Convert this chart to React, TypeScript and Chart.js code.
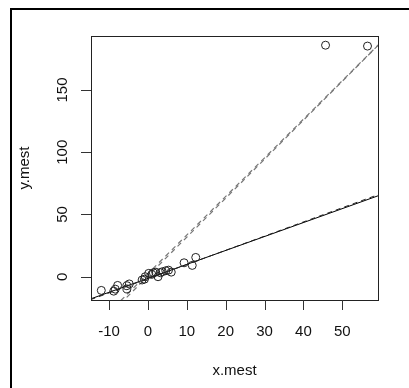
import React, { useEffect, useRef } from "react";
import { Chart, registerables } from "chart.js";

Chart.register(...registerables);

const xValues = [-12.0, -8.8, -8.4, -7.8, -5.4, -5.4, -4.8, -1.5, -0.9, -0.7, 0.2, 1.0, 1.4, 2.0, 2.6, 3.2, 3.7, 4.6, 5.3, 6.0, 9.3, 11.4, 12.3, 45.7, 56.5];
const yValues = [-11.0, -11.6, -10.0, -7.0, -7.2, -9.8, -5.8, -2.6, -2.0, 0.0, 2.7, 1.9, 3.2, 3.7, 0.0, 3.2, 4.0, 4.8, 5.3, 3.7, 11.2, 9.1, 15.5, 186.0, 185.3];
const xTicks = [-10, 0, 10, 20, 30, 40, 50];
const yTicks = [0, 50, 100, 150];
const xRange = [-14.65, 59.2];
const yRange = [-18.7, 193.4];
// fitted lines: [intercept, slope]
const shallowSolid = [-1.3, 1.12];
const shallowDashed = [-1.6, 1.14];
const steepDashedA = [2.5, 3.1];
const steepDashedB = [0.5, 3.13];
const xLabel = "x.mest";
const yLabel = "y.mest";

const lineData = (c: number[]) => [
  { x: -30, y: c[0] + c[1] * -30 },
  { x: 80, y: c[0] + c[1] * 80 },
];

const FONT = "15px 'Liberation Sans', Arial, sans-serif";

const decorPlugin = {
  id: "decor",
  beforeDraw(chart: any) {
    const ctx = chart.ctx;
    ctx.save();
    ctx.fillStyle = "#ffffff";
    ctx.fillRect(0, 0, chart.width, chart.height);
    ctx.restore();
  },
  afterDraw(chart: any) {
    const ctx = chart.ctx;
    const { left, right, top, bottom } = chart.chartArea;
    const xs = chart.scales.x;
    const ys = chart.scales.y;
    ctx.save();
    // outer frame
    ctx.strokeStyle = "#000";
    ctx.lineWidth = 2;
    ctx.strokeRect(11, 9, chart.width + 20, chart.height + 20);
    // plot box
    ctx.lineWidth = 1;
    ctx.strokeStyle = "#222";
    ctx.strokeRect(Math.round(left) + 0.5, Math.round(top) + 0.5, Math.round(right - left), Math.round(bottom - top));
    // ticks
    ctx.strokeStyle = "#333";
    ctx.fillStyle = "#111";
    ctx.font = FONT;
    ctx.textAlign = "center";
    ctx.textBaseline = "middle";
    ctx.beginPath();
    for (const t of xTicks) {
      const px = Math.round(xs.getPixelForValue(t)) + 0.5;
      ctx.moveTo(px, Math.round(bottom));
      ctx.lineTo(px, Math.round(bottom) + 10);
    }
    for (const t of yTicks) {
      const py = Math.round(ys.getPixelForValue(t)) + 0.5;
      ctx.moveTo(Math.round(left), py);
      ctx.lineTo(Math.round(left) - 10, py);
    }
    ctx.stroke();
    for (const t of xTicks) {
      ctx.fillText(String(t), xs.getPixelForValue(t), bottom + 32);
    }
    for (const t of yTicks) {
      ctx.save();
      ctx.translate(left - 28, ys.getPixelForValue(t));
      ctx.rotate(-Math.PI / 2);
      ctx.fillText(String(t), 0, 0);
      ctx.restore();
    }
    ctx.fillText(xLabel, (left + right) / 2, bottom + 71);
    ctx.save();
    ctx.translate(25, (top + bottom) / 2);
    ctx.rotate(-Math.PI / 2);
    ctx.fillText(yLabel, 0, 0);
    ctx.restore();
    ctx.restore();
  },
};

export default function App() {
  const ref = useRef<HTMLCanvasElement | null>(null);
  useEffect(() => {
    if (!ref.current) return;
    const points = xValues.map((x, i) => ({ x, y: yValues[i] }));
    const chart = new Chart(ref.current, {
      type: "scatter",
      data: {
        datasets: [
          {
            label: "points",
            data: points,
            pointRadius: 4,
            pointBorderWidth: 1,
            pointBorderColor: "#222",
            pointBackgroundColor: "rgba(0,0,0,0)",
            showLine: false,
          } as any,
          {
            label: "steepA",
            data: lineData(steepDashedA),
            showLine: true,
            borderColor: "#777",
            borderWidth: 1.2,
            borderDash: [5, 4],
            pointRadius: 0,
          },
          {
            label: "steepB",
            data: lineData(steepDashedB),
            showLine: true,
            borderColor: "#777",
            borderWidth: 1.2,
            borderDash: [5, 4],
            pointRadius: 0,
          },
          {
            label: "shallowDashed",
            data: lineData(shallowDashed),
            showLine: true,
            borderColor: "#222",
            borderWidth: 1,
            borderDash: [5, 4],
            pointRadius: 0,
          },
          {
            label: "shallowSolid",
            data: lineData(shallowSolid),
            showLine: true,
            borderColor: "#000",
            borderWidth: 1,
            pointRadius: 0,
          },
        ],
      },
      options: {
        animation: false,
        responsive: false,
        devicePixelRatio: 1,
        layout: { padding: { left: 91, top: 36, right: 31, bottom: 88 } },
        plugins: { legend: { display: false }, tooltip: { enabled: false } },
        events: [],
        scales: {
          x: { type: "linear", min: xRange[0], max: xRange[1], display: false },
          y: { type: "linear", min: yRange[0], max: yRange[1], display: false },
        },
      },
      plugins: [decorPlugin],
    });
    return () => chart.destroy();
  }, []);
  return (
    <div style={{ position: "absolute", left: 0, top: 0, width: 409, height: 388 }}>
      <canvas ref={ref} width={409} height={388} style={{ width: 409, height: 388, display: "block" }} />
    </div>
  );
}
